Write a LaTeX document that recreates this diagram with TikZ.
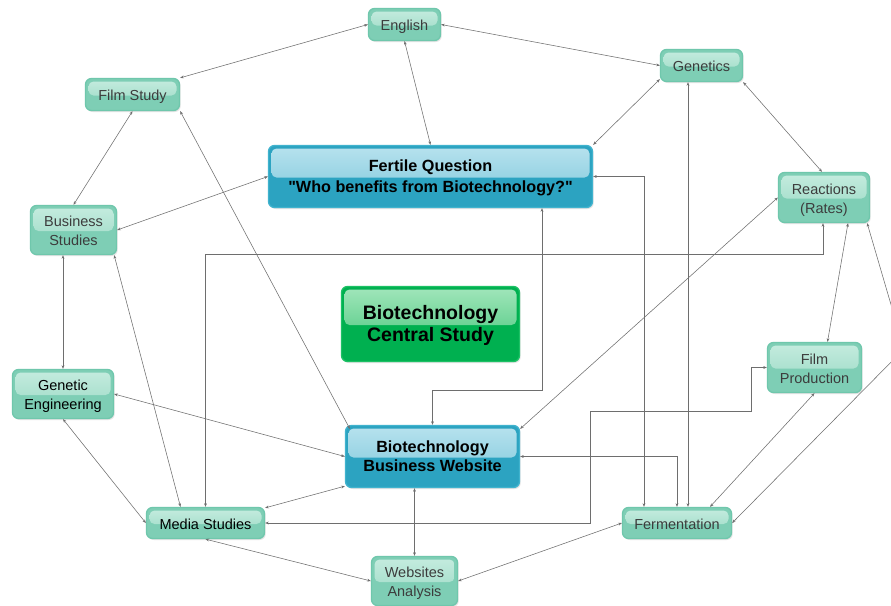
\documentclass[tikz,border=0pt]{standalone}
\usepackage{fontspec}
\setmainfont{Liberation Sans}[Ligatures=TeXOff]
\usetikzlibrary{arrows.meta,shadows,calc}

\definecolor{mintfill}{HTML}{7ECEB5}
\definecolor{mintedge}{HTML}{6FC7AC}
\definecolor{mintglosstop}{HTML}{C6ECDF}
\definecolor{mintglossbot}{HTML}{93D7C1}
\definecolor{qbluefill}{HTML}{2CA3C1}
\definecolor{qblueedge}{HTML}{40B3CE}
\definecolor{qglosstop}{HTML}{B8E2EE}
\definecolor{qglossbot}{HTML}{78C6DA}
\definecolor{cgreenfill}{HTML}{00B050}
\definecolor{cgreenedge}{HTML}{1DC165}
\definecolor{cglosstop}{HTML}{A2E6BB}
\definecolor{cglossbot}{HTML}{3AC273}
\definecolor{linkgray}{HTML}{6E6E6E}
\definecolor{topictext}{HTML}{3C3C3C}

% invisible struts fixing the first line's height and the last line's depth
\newcommand{\hgt}[1]{\rule{0pt}{#1}}
\newcommand{\dpt}[1]{\rule[-#1]{0pt}{#1}}

\tikzset{
  gloss/.style 2 args={
    path picture={
      \shade[top color=#1, bottom color=#2, rounded corners=5pt]
        ([shift={(3pt,-3pt)}]path picture bounding box.north west)
        rectangle ([shift={(-3pt,-1pt)}]path picture bounding box.east);
    }},
  boxbase/.style={rounded corners=6pt, line width=1.3pt, inner sep=0pt,
    align=center, drop shadow={shadow xshift=1.2pt, shadow yshift=-1.5pt,
    opacity=0.22}},
  topic/.style={boxbase, fill=mintfill, draw=mintedge, text=topictext,
    gloss={mintglosstop}{mintglossbot},
    font=\fontsize{14.5}{19}\selectfont},
  keybox/.style={boxbase, fill=qbluefill, draw=qblueedge, text=black,
    gloss={qglosstop}{qglossbot},
    font=\fontsize{16.2}{#1}\selectfont\bfseries},
  corebox/.style={boxbase, fill=cgreenfill, draw=cgreenedge, text=black,
    gloss={cglosstop}{cglossbot},
    font=\fontsize{19.5}{22.3}\selectfont\bfseries},
  link/.style={draw=linkgray, line width=0.55pt,
    arrows={Stealth[length=3.6pt,width=2.8pt]-Stealth[length=3.6pt,width=2.8pt]}}
}

\begin{document}
\begin{tikzpicture}[x=1pt, y=-1pt]
  \useasboundingbox (0,0) rectangle (891,605);
  \fill[white] (0,0) rectangle (891,605);
  \clip (0,0) rectangle (891,605);

  % topic boxes
  \node[topic, minimum width=72pt, minimum height=32pt] (eng) at (404.5,24.5)
    {\hgt{15.5pt}English\dpt{3pt}};
  \node[topic, minimum width=82pt, minimum height=32pt] (gen) at (701.5,65.5)
    {\hgt{15.5pt}Genetics\dpt{3pt}};
  \node[topic, minimum width=94pt, minimum height=32pt] (film) at (132.5,94.5)
    {\hgt{15.5pt}Film Study\dpt{3pt}};
  \node[topic, minimum width=91pt, minimum height=50pt] (react) at (824,197.5)
    {\hgt{15.5pt}Reactions\\(Rates)\dpt{3pt}};
  \node[topic, minimum width=86pt, minimum height=49pt] (bus) at (73.5,230)
    {\hgt{15.5pt}Business\\Studies\dpt{3pt}};
  \node[topic, minimum width=94pt, minimum height=50pt] (fp) at (814.5,367.5)
    {\hgt{15.5pt}Film\\Production\dpt{3pt}};
  \node[topic, text=black, minimum width=101pt, minimum height=49pt] (ge) at (63,394)
    {\hgt{15.5pt}Genetic\\Engineering\dpt{3pt}};
  \node[topic, text=black, minimum width=118pt, minimum height=31pt] (media) at (205.5,523)
    {\hgt{15.5pt}Media Studies\dpt{3pt}};
  \node[topic, minimum width=109pt, minimum height=31pt] (ferm) at (677,523)
    {\hgt{15.5pt}Fermentation\dpt{3pt}};
  \node[topic, minimum width=86pt, minimum height=49pt] (wa) at (414.5,581)
    {\hgt{15.5pt}Websites\\Analysis\dpt{3pt}};

  % key boxes
  \node[keybox=20.7, minimum width=324pt, minimum height=62pt] (fq) at (430.5,176.5)
    {\hgt{15pt}Fertile Question\\"Who benefits from Biotechnology?"\dpt{3.3pt}};
  \node[keybox=19, minimum width=174pt, minimum height=62pt] (web) at (432.5,456.5)
    {\hgt{14.5pt}Biotechnology\\Business Website\dpt{3.1pt}};
  \node[corebox, minimum width=178pt, minimum height=75pt] (central) at (430.5,324)
    {\hgt{17pt}Biotechnology\\Central Study\dpt{4.1pt}};

  % bend points of routed connectors
  \coordinate (offedge) at (904,349);
  \coordinate (mbend) at (590,411);

  % connectors
  \draw[link] (eng.west) -- (film.north east);
  \draw[link] (eng.east) -- (gen.west);
  \draw[link] (eng.south) -- (fq.north);
  \draw[link] ([yshift=3pt]gen.south west) -- (fq.north east);
  \draw[link] ([xshift=-13.5pt]gen.south) -- ([xshift=-13.5pt]gen.south |- ferm.north);
  \draw[link] (gen.south east) -- ([xshift=-2pt]react.north);
  \draw[link] (react.west) -- ([yshift=-4pt]web.north east);
  \draw[link] ([xshift=-1pt]react.south) |- (media.north |- 0,254) -- (media.north);
  \draw[link] ([xshift=24pt]react.south) -- ([xshift=13pt]fp.north);
  \draw[link] ([xshift=-3pt]react.south east) -- (offedge) -- (ferm.east);
  \draw[link] (fp.south) -- ([xshift=33pt]ferm.north);
  \draw[link] (media.east) -| (mbend) -| ([xshift=-16pt]fp.west) -- (fp.west);
  \draw[link] (ferm.west) -- (wa.east);
  \draw[link] (media.south) -- (wa.west);
  \draw[link] (wa.north |- web.south) -- (wa.north);
  \draw[link] ([yshift=2pt]web.south west) -- ([yshift=-1pt]media.north east);
  \draw[link] (ge.east) -- (web.west);
  \draw[link] (film.south east) -- ([shift={(5pt,-4pt)}]web.north west);
  \draw[link] (film.south) -- (bus.north);
  \draw[link] (bus.east) -- (fq.west);
  \draw[link] (ge.north |- bus.south) -- (ge.north);
  \draw[link] ([xshift=-3pt]bus.south east) -- ([xshift=-25pt]media.north);
  \draw[link] (ge.south) -- (media.west);
  \draw[link] ([xshift=111.5pt]fq.south) |- ([yshift=35pt]web.north) -- (web.north);
  \draw[link] (fq.east) -| ([xshift=-33pt]ferm.north);
  \draw[link] (web.east) -| (ferm.north);
\end{tikzpicture}
\end{document}
